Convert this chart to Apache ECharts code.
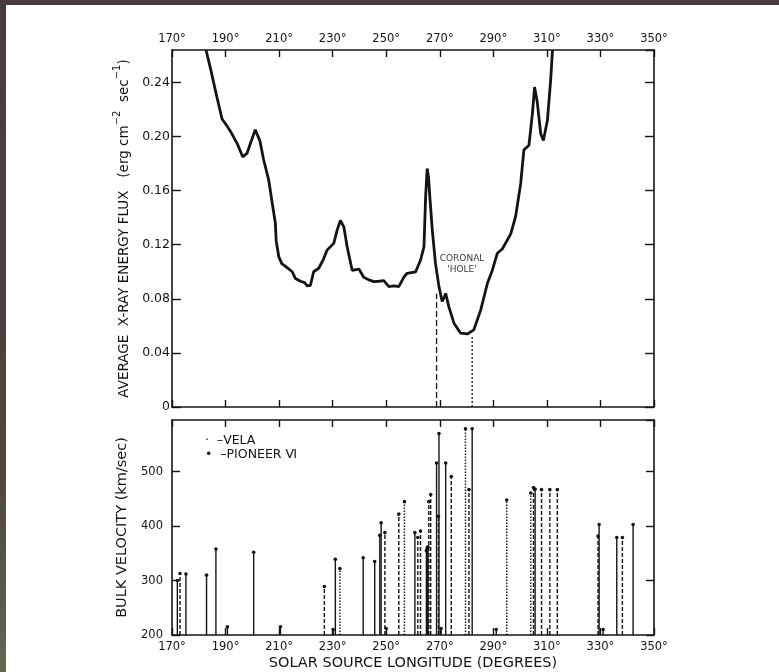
<!DOCTYPE html>
<html>
<head>
<meta charset="utf-8">
<script src="https://cdn.jsdelivr.net/npm/echarts@6/dist/echarts.min.js"></script>
<style>
html,body{margin:0;padding:0;background:#fff;}
#c{width:779px;height:672px;}
</style>
</head>
<body>
<div id="c"></div>
<script>
// ---- data ----
var lonTicks = [170, 190, 210, 230, 250, 270, 290, 310, 330, 350];
var fluxTicks = [0, 0.04, 0.08, 0.12, 0.16, 0.20, 0.24];
var velTicks = [200, 300, 400, 500];

// X-ray flux curve (longitude in degrees, flux in erg cm^-2 s^-1)
var fluxLon = [182.7,184.3,186.8,188.7,190.5,191.8,194.3,196.4,198.0,199.3,201.1,202.8,204.2,206.1,207.4,208.6,
  208.9,209.9,211.0,212.4,214.9,216.1,218.0,219.5,220.5,221.7,222.9,224.8,226.5,227.9,230.4,231.7,232.9,234.2,
  235.4,237.3,239.8,241.6,243.5,245.4,247.3,249.1,251.0,253.0,254.7,256.6,257.8,261.0,262.8,264.1,264.7,265.3,
  265.8,266.3,267.2,268.4,269.7,270.9,271.6,272.2,273.4,275.3,277.8,280.3,282.7,285.3,287.8,289.6,291.5,293.4,
  296.5,298.3,300.2,301.4,303.3,304.6,305.4,306.4,307.7,308.7,310.2,311.4,312.1];
var fluxVal = [0.264,0.251,0.229,0.213,0.208,0.204,0.195,0.185,0.1875,0.195,0.205,0.197,0.183,0.168,0.151,0.136,
  0.123,0.111,0.106,0.104,0.100,0.095,0.093,0.092,0.0895,0.090,0.100,0.1026,0.109,0.116,0.121,0.131,0.138,0.133,
  0.1185,0.101,0.102,0.096,0.094,0.0927,0.093,0.0934,0.089,0.0895,0.089,0.096,0.0989,0.100,0.1085,0.1185,0.155,0.1764,
  0.170,0.155,0.131,0.106,0.089,0.078,0.081,0.084,0.074,0.062,0.0546,0.054,0.057,0.0718,0.0915,0.101,0.1137,0.117,
  0.128,0.1407,0.165,0.190,0.1936,0.217,0.2366,0.2255,0.202,0.197,0.212,0.2416,0.264];

// coronal hole boundaries
var holeLon = [268.8, 282.1];
var holeTop = [0.084, 0.053];

// bulk velocity measurements (km/sec); style: 0 solid, 1 dashed, 2 dotted
var velLon = [172.0,173.0,175.2,182.9,186.4,190.7,200.5,210.5,226.9,230.2,231.0,232.7,241.4,245.7,247.6,248.1,
  249.5,250.0,254.7,256.8,260.7,261.8,262.8,265.0,265.3,265.6,265.9,266.6,268.8,269.5,269.7,270.5,272.2,274.3,
  279.6,280.9,282.1,291.1,295.0,304.0,305.0,305.6,308.0,311.1,313.9,329.1,329.5,331.0,336.1,338.2,342.2];
var velVal = [300,313,312,310,358,215,352,215,289,210,339,322,342,335,383,406,
  388,212,422,445,388,379,391,355,360,362,445,458,516,418,570,212,516,491,
  579,467,579,210,448,461,471,468,467,467,467,382,403,210,379,379,403];
var velStyle = [0,1,0,0,0,0,0,0,1,1,0,2,0,0,0,0,
  1,1,1,2,0,1,1,0,0,0,1,1,0,1,0,0,0,1,
  2,1,0,0,2,2,1,0,1,1,1,1,0,0,0,1,0];

// ---- chart ----
var FONT = 'DejaVu Sans';
var INK = '#141414';
var chart = echarts.init(document.getElementById('c'));

function lonAxis(grid, pos, showLabel, extra) {
  var a = {
    type: 'value', gridIndex: grid, position: pos, min: 170, max: 350, interval: 20,
    axisLine: {show: true, onZero: false, lineStyle: {color: INK, width: 1.6}},
    axisTick: {show: true, inside: true, length: 7, lineStyle: {color: INK, width: 1.4}},
    splitLine: {show: false},
    axisLabel: {show: showLabel, formatter: function (v) { return lonTicks.indexOf(v) >= 0 ? v + '°' : ''; },
      color: INK, fontFamily: FONT, fontSize: 11.5, margin: pos === 'top' ? 5 : 6}
  };
  if (extra) for (var k in extra) a[k] = extra[k];
  return a;
}

var option = {
  backgroundColor: '#ffffff',
  animation: false,
  grid: [
    {left: 172, top: 50, width: 482, height: 357},
    {left: 172, top: 420, width: 482, height: 215}
  ],
  xAxis: [
    lonAxis(0, 'top', true),
    lonAxis(0, 'bottom', false),
    lonAxis(1, 'top', false),
    lonAxis(1, 'bottom', true, {
      name: 'SOLAR SOURCE LONGITUDE (DEGREES)', nameLocation: 'middle', nameGap: 21,
      nameTextStyle: {color: INK, fontFamily: FONT, fontSize: 14.5}
    })
  ],
  yAxis: [
    {
      type: 'value', gridIndex: 0, position: 'left', min: 0, max: 0.264, interval: 0.04,
      axisLine: {show: true, lineStyle: {color: INK, width: 1.6}},
      axisTick: {show: true, inside: true, length: 9, lineStyle: {color: INK, width: 1.4}},
      splitLine: {show: false},
      axisLabel: {showMaxLabel: false, color: INK, fontFamily: FONT, fontSize: 12.5, margin: 2,
        formatter: function (v) { var r = Math.round(v * 100) / 100; return fluxTicks.indexOf(r) < 0 ? '' : (r === 0 ? '0' : r.toFixed(2)); }},
      name: '{t|AVERAGE  X-RAY ENERGY FLUX   (erg cm}{s|−2}{t|  sec}{s|−1}{t|)}',
      nameLocation: 'middle', nameGap: 29, nameRotate: 90,
      nameTextStyle: {rich: {
        t: {color: INK, fontFamily: FONT, fontSize: 13.5, verticalAlign: 'bottom', lineHeight: 19},
        s: {color: INK, fontFamily: FONT, fontSize: 10, verticalAlign: 'top', lineHeight: 19}
      }}
    },
    {
      type: 'value', gridIndex: 0, position: 'right', min: 0, max: 0.264, interval: 0.04,
      axisLine: {show: true, lineStyle: {color: INK, width: 1.6}},
      axisTick: {show: true, inside: true, length: 9, lineStyle: {color: INK, width: 1.4}},
      splitLine: {show: false}, axisLabel: {show: false}
    },
    {
      type: 'value', gridIndex: 1, position: 'left', min: 200, max: 595, interval: 100,
      axisLine: {show: true, lineStyle: {color: INK, width: 1.6}},
      axisTick: {show: true, inside: true, length: 8, lineStyle: {color: INK, width: 1.4}},
      splitLine: {show: false},
      axisLabel: {showMaxLabel: false, color: INK, fontFamily: FONT, fontSize: 11.5, margin: 9,
        formatter: function (v) { return velTicks.indexOf(v) >= 0 ? String(v) : ''; }},
      name: 'BULK VELOCITY (km/sec)', nameLocation: 'middle', nameGap: 30, nameRotate: 90,
      nameTextStyle: {color: INK, fontFamily: FONT, fontSize: 14.5}
    },
    {
      type: 'value', gridIndex: 1, position: 'right', min: 200, max: 595, interval: 100,
      axisLine: {show: true, lineStyle: {color: INK, width: 1.6}},
      axisTick: {show: true, inside: true, length: 8, lineStyle: {color: INK, width: 1.4}},
      splitLine: {show: false}, axisLabel: {show: false}
    }
  ],
  series: [
    {
      type: 'line', xAxisIndex: 0, yAxisIndex: 0, showSymbol: false, smooth: false, clip: true,
      lineStyle: {color: INK, width: 2.8},
      data: fluxLon.map(function (x, i) { return [x, fluxVal[i]]; })
    },
    {
      type: 'line', xAxisIndex: 0, yAxisIndex: 0, showSymbol: false,
      lineStyle: {color: INK, width: 1.3, type: [6, 3]},
      data: [[holeLon[0], 0], [holeLon[0], holeTop[0]]]
    },
    {
      type: 'line', xAxisIndex: 0, yAxisIndex: 0, showSymbol: false,
      lineStyle: {color: INK, width: 1.3, type: [2, 2]},
      data: [[holeLon[1], 0], [holeLon[1], holeTop[1]]]
    },
    {
      type: 'scatter', xAxisIndex: 0, yAxisIndex: 0, symbolSize: 0, silent: true,
      data: [[278.3, 0.106]],
      label: {show: true, position: 'inside', formatter: "CORONAL\n'HOLE'", color: '#000',
        fontFamily: FONT, fontSize: 9, lineHeight: 11, align: 'center'}
    },
    {
      type: 'custom', xAxisIndex: 2, yAxisIndex: 2, clip: true,
      data: velLon.map(function (x, i) { return [x, velVal[i], velStyle[i]]; }),
      renderItem: function (params, api) {
        var x = api.value(0), v = api.value(1), s = api.value(2);
        var p0 = api.coord([x, 200]), p1 = api.coord([x, v]);
        var dash = s === 0 ? null : (s === 1 ? [4, 2] : [1.5, 1.5]);
        return {type: 'group', children: [
          {type: 'line', shape: {x1: p0[0], y1: p0[1], x2: p1[0], y2: p1[1]},
            style: {stroke: INK, lineWidth: 1.4, lineDash: dash}},
          {type: 'circle', shape: {cx: p1[0], cy: p1[1], r: 1.8}, style: {fill: INK}}
        ]};
      }
    }
  ],
  graphic: [
    {type: 'rect', left: 0, top: 0, shape: {width: 6, height: 672},
      style: {fill: new echarts.graphic.LinearGradient(0, 0, 0, 1, [
        {offset: 0, color: '#4a3940'}, {offset: 0.7, color: '#4f4440'}, {offset: 1, color: '#5e6b52'}])}},
    {type: 'rect', left: 0, top: 0, shape: {width: 779, height: 5}, style: {fill: '#4c3a42'}},
    {type: 'text', left: 205, top: 434, style: {text: '·  –VELA', fill: INK, font: '12.5px "DejaVu Sans"'}},
    {type: 'text', left: 205, top: 448, style: {text: '•  –PIONEER Ⅵ', fill: INK, font: '12.5px "DejaVu Sans"'}}
  ]
};
chart.setOption(option);
</script>
</body>
</html>
